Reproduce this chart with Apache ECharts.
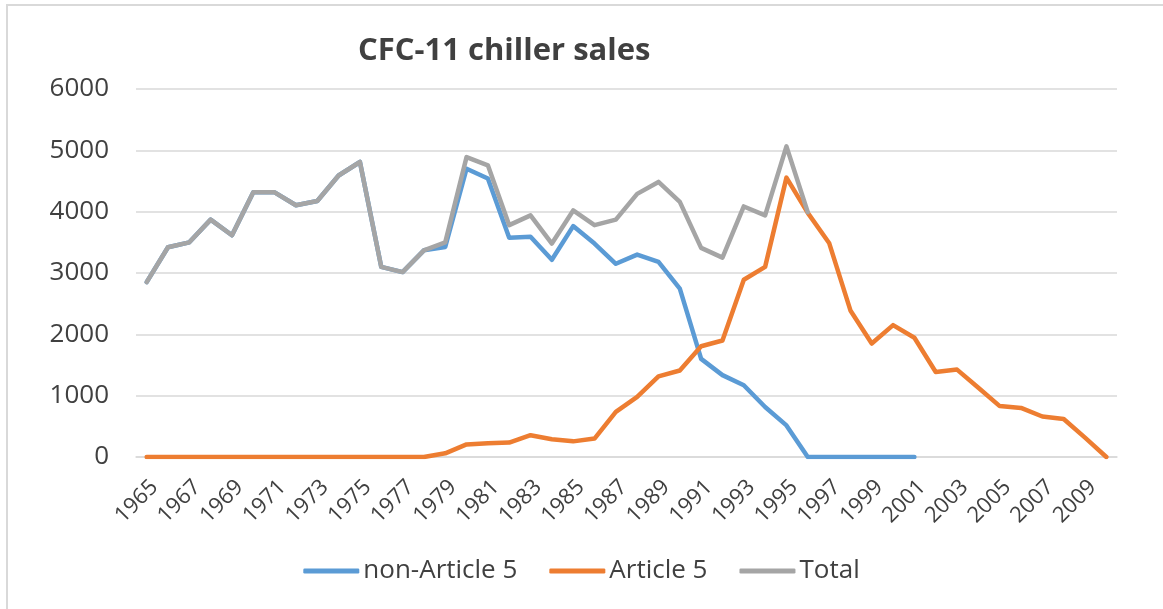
<!DOCTYPE html>
<html>
<head>
<meta charset="utf-8">
<title>CFC-11 chiller sales</title>
<script src="https://cdn.jsdelivr.net/npm/echarts@6/dist/echarts.min.js"></script>
<style>
  html, body { margin: 0; padding: 0; background: #fff; }
  #main { width: 1163px; height: 609px; }
</style>
</head>
<body>
<div id="main"></div>
<script>
// years 1965 - 2010
var years = [];
for (var y = 1965; y <= 2010; y++) years.push(String(y));

// non-Article 5 (ends 2001)
var nonArticle5 = [
  2850, 3420, 3500, 3870, 3615, 4315, 4315, 4105, 4175, 4590,
  4810, 3100, 3015, 3370, 3425, 4700, 4540, 3575, 3590, 3215,
  3765, 3480, 3150, 3300, 3180, 2745, 1600, 1335, 1170, 815,
  515, 0, 0, 0, 0, 0, 0, null, null, null,
  null, null, null, null, null, null
];

// Article 5
var article5 = [
  0, 0, 0, 0, 0, 0, 0, 0, 0, 0,
  0, 0, 0, 0, 60, 205, 225, 235, 355, 290,
  255, 300, 735, 980, 1315, 1410, 1805, 1900, 2890, 3100,
  4555, 3980, 3490, 2390, 1850, 2150, 1945, 1385, 1425, 1130,
  830, 800, 660, 620, 315, 0
];

// Total (ends 1996)
var total = [
  2850, 3420, 3500, 3870, 3615, 4315, 4315, 4105, 4175, 4590,
  4810, 3100, 3015, 3370, 3500, 4890, 4755, 3780, 3940, 3480,
  4020, 3780, 3870, 4290, 4485, 4160, 3410, 3250, 4085, 3940,
  5065, 3990, null, null, null, null, null, null, null, null,
  null, null, null, null, null, null
];

var seriesNames = ['non-Article 5', 'Article 5', 'Total'];
var seriesColors = ['#5B9BD5', '#ED7D31', '#A5A5A5'];

var chart = echarts.init(document.getElementById('main'));

function mkSeries(name, data, color) {
  return {
    name: name,
    type: 'line',
    data: data,
    symbol: 'none',
    connectNulls: false,
    lineStyle: { width: 4.5, color: color, cap: 'round', join: 'round' },
    itemStyle: { color: color }
  };
}

chart.setOption({
  animation: false,
  backgroundColor: '#fff',
  textStyle: { fontFamily: '"Open Sans", "Liberation Sans", sans-serif' },
  graphic: [{
    type: 'rect',
    shape: { x: 7, y: 5, width: 1170, height: 620 },
    style: { fill: 'none', stroke: '#D9D9D9', lineWidth: 2 },
    silent: true
  }],
  title: {
    text: 'CFC-11 chiller sales',
    left: 353,
    top: 31,
    textStyle: { fontSize: 31, fontWeight: 'bold', color: '#404040' }
  },
  legend: {
    data: seriesNames,
    bottom: 20,
    left: 'center',
    icon: 'roundRect',
    itemWidth: 56,
    itemHeight: 5,
    itemGap: 32,
    textStyle: { fontSize: 26, color: '#404040', padding: [0, 0, 0, -1] }
  },
  grid: { left: 136, right: 46, top: 89, bottom: 152, containLabel: false },
  xAxis: {
    type: 'category',
    data: years,
    boundaryGap: true,
    axisLine: { show: true, lineStyle: { color: '#D9D9D9', width: 1.5 } },
    axisTick: { show: false },
    axisLabel: {
      interval: 1,
      rotate: 45,
      fontSize: 22,
      color: '#404040',
      margin: 19,
      verticalAlign: 'top'
    }
  },
  yAxis: {
    type: 'value',
    min: 0,
    max: 6000,
    interval: 1000,
    axisLine: { show: false },
    axisTick: { show: false },
    axisLabel: {
      fontSize: 26,
      color: '#404040',
      margin: 27,
      formatter: function (v) { return String(v); }
    },
    splitLine: { lineStyle: { color: '#D9D9D9', width: 1.5 } }
  },
  series: [
    mkSeries(seriesNames[0], nonArticle5, seriesColors[0]),
    mkSeries(seriesNames[1], article5, seriesColors[1]),
    mkSeries(seriesNames[2], total, seriesColors[2])
  ]
});
</script>
</body>
</html>
